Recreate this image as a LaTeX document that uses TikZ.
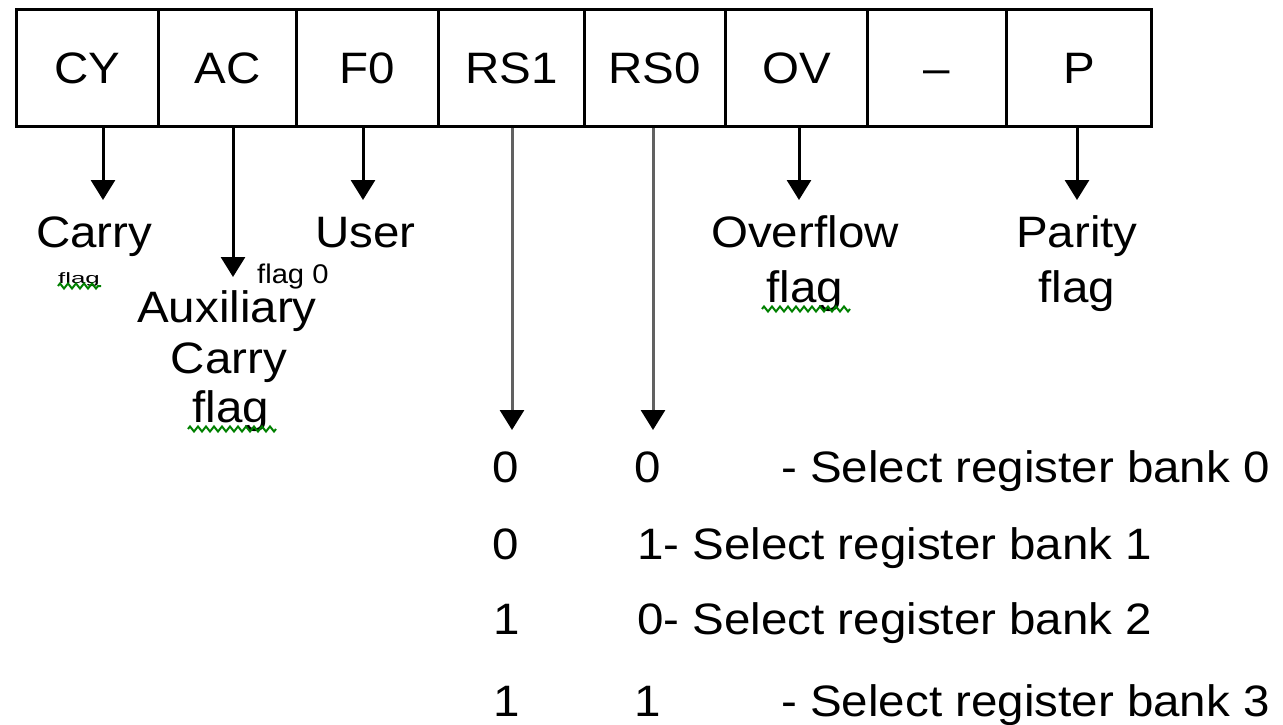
\documentclass[tikz,border=0pt]{standalone}
\usepackage{fontspec}
\setmainfont{Liberation Sans}[FakeStretch=1.08]
\usetikzlibrary{arrows.meta,decorations.pathmorphing}
\begin{document}
\begin{tikzpicture}[x=1pt,y=-1pt,
  txt/.style={inner sep=0pt, font=\fontsize{44}{50}\selectfont},
  cellbox/.style={draw, line width=2.8pt, minimum height=117pt, inner sep=0pt,
    anchor=north west, text height=31.5pt, text depth=0pt, font=\fontsize{44}{50}\selectfont},
  flagarrow/.style={line width=3pt, -{Triangle[width=24pt,length=20pt]}},
  grayarrow/.style={line width=3pt, draw=black!62, -{Triangle[width=24pt,length=20pt,color=black]}},
  squig/.style={draw=green!50!black, line width=2pt, decorate,
    decoration={zigzag,amplitude=2.5pt,segment length=8pt}}]
\useasboundingbox (0,0) rectangle (1283,725);
% register cells
\node[cellbox, minimum width=142pt] (cy)  at (15,8)   {CY};
\node[cellbox, minimum width=138pt] (ac)  at (157,8)  {AC};
\node[cellbox, minimum width=142pt] (f0)  at (295,8)  {F0};
\node[cellbox, minimum width=146pt] (rs1) at (437,8)  {RS1};
\node[cellbox, minimum width=141pt] (rs0) at (583,8)  {RS0};
\node[cellbox, minimum width=142pt] (ov)  at (724,8)  {OV};
\node[cellbox, minimum width=139pt] (un)  at (866,8)  {–};
\node[cellbox, minimum width=145pt] (p)   at (1005,8) {P};
% arrow end points
\coordinate (cyT)  at (103,200);
\coordinate (acT)  at (233,277);
\coordinate (f0T)  at (363,200);
\coordinate (rs1T) at (512,430);
\coordinate (rs0T) at (653,430);
\coordinate (ovT)  at (799,200);
\coordinate (pT)   at (1077,200);
\draw[flagarrow] (cy.south -| cyT) -- (cyT);
\draw[flagarrow] (ac.south -| acT) -- (acT);
\draw[flagarrow] (f0.south -| f0T) -- (f0T);
\draw[grayarrow] (rs1.south -| rs1T) -- (rs1T);
\draw[grayarrow] (rs0.south -| rs0T) -- (rs0T);
\draw[flagarrow] (ov.south -| ovT) -- (ovT);
\draw[flagarrow] (p.south -| pT) -- (pT);
% flag labels
\node[txt, anchor=base west] (carry) at (36,247) {Carry};
\node[inner sep=0pt, font=\fontsize{15}{15}\selectfont, anchor=base] (carryflag) at (79,283) {\scalebox{1.6}[1]{flag}};
\draw[squig] (58,286) -- (101,286);
\node[txt, anchor=base] (aux) at (227,322) {Auxiliary};
\node[txt, anchor=base] (carry2) at (229,373) {Carry};
\node[txt, anchor=base] (acflag) at (231,422) {flag};
\draw[squig] (188,429) -- (276,429);
\node[inner sep=0pt, font=\fontsize{27}{27}\selectfont, anchor=base west] (flag0) at (257,283) {flag 0};
\node[txt, anchor=base west] (user) at (315,247) {User};
\node[txt, anchor=base] (over) at (805,247) {Overflow};
\node[txt, anchor=base] (ovflag) at (805,302) {flag};
\draw[squig] (762,309) -- (850,309);
\node[txt, anchor=base] (parity) at (1077,247) {Parity};
\node[txt, anchor=base] (pflag) at (1077,302) {flag};
% register bank table
\node[txt, anchor=base] (r1a) at (506,482) {0};
\node[txt, anchor=base] (r1b) at (648,482) {0};
\node[txt, anchor=base west] (r1c) at (781,482) {- Select register bank 0};
\node[txt, anchor=base] (r2a) at (506,559) {0};
\node[txt, anchor=base west] (r2b) at (637,559) {1- Select register bank 1};
\node[txt, anchor=base] (r3a) at (507,634) {1};
\node[txt, anchor=base west] (r3b) at (637,634) {0- Select register bank 2};
\node[txt, anchor=base] (r4a) at (507,716) {1};
\node[txt, anchor=base] (r4b) at (648,716) {1};
\node[txt, anchor=base west] (r4c) at (781,716) {- Select register bank 3};
\end{tikzpicture}
\end{document}
